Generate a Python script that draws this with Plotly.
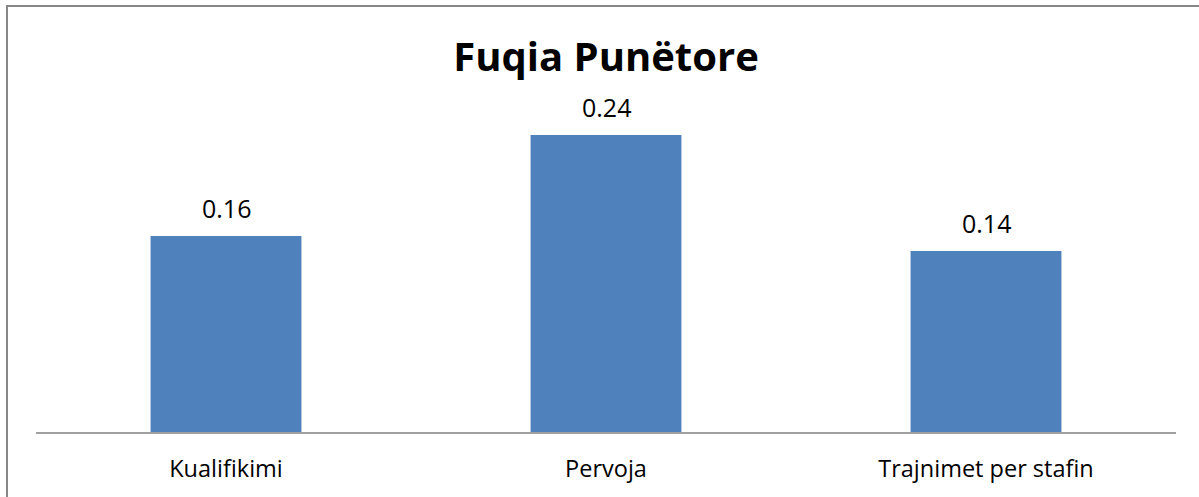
import plotly.graph_objects as go

categories = ["Kualifikimi", "Pervoja", "Trajnimet per stafin"]
values = [0.1562, 0.2367, 0.1442]
title_text = "Fuqia Punëtore"

W, H = 1199, 497
OFF = 0  # body margin removed via post_script
bar_color = "#4F81BD"
font_family = "Open Sans, Noto Sans, Liberation Sans, sans-serif"


def px_x(x):
    return (x - OFF) / W


def px_y(y):
    return 1 - (y - OFF) / H


fig = go.Figure()
fig.add_trace(go.Bar(
    x=categories, y=values,
    marker=dict(color=bar_color, line=dict(width=0)),
    width=0.397,
    hoverinfo="skip",
))

annotations = []
for c, v in zip(categories, values):
    annotations.append(dict(
        x=c, y=v, xref="x", yref="y",
        text=f"{v:.2f}", showarrow=False,
        yanchor="bottom", yshift=9,
        font=dict(family=font_family, size=25, color="#000000"),
    ))

fig.update_layout(
    width=W, height=H,
    margin=dict(l=0, r=0, t=0, b=0),
    paper_bgcolor="white", plot_bgcolor="white",
    showlegend=False,
    hovermode=False,
    title=dict(
        text=f"<b>{title_text}</b>",
        x=px_x(606), y=px_y(57), xanchor="center", yanchor="middle",
        font=dict(family=font_family, size=40, color="#000000"),
    ),
    xaxis=dict(
        domain=[px_x(36), px_x(1176)],
        showline=True, linecolor="#A0A0A0", linewidth=2,
        ticks="outside", ticklen=15, tickcolor="rgba(0,0,0,0)",
        tickfont=dict(family=font_family, size=23.5, color="#000000"),
        showgrid=False, zeroline=False,
    ),
    yaxis=dict(
        domain=[px_y(432), px_y(432 - 376.5)],
        range=[0, 0.3],
        visible=False, showgrid=False, zeroline=False,
    ),
    annotations=annotations,
    shapes=[dict(
        type="rect", xref="paper", yref="paper",
        x0=px_x(7), x1=1.02, y0=-0.02, y1=px_y(6),
        line=dict(color="#878787", width=2), fillcolor="rgba(0,0,0,0)",
        layer="above",
    )],
)

fig.write_html("out.html",
               config={"displayModeBar": False, "staticPlot": True},
               post_script="document.body.style.margin='0px';document.body.style.padding='0px';")
